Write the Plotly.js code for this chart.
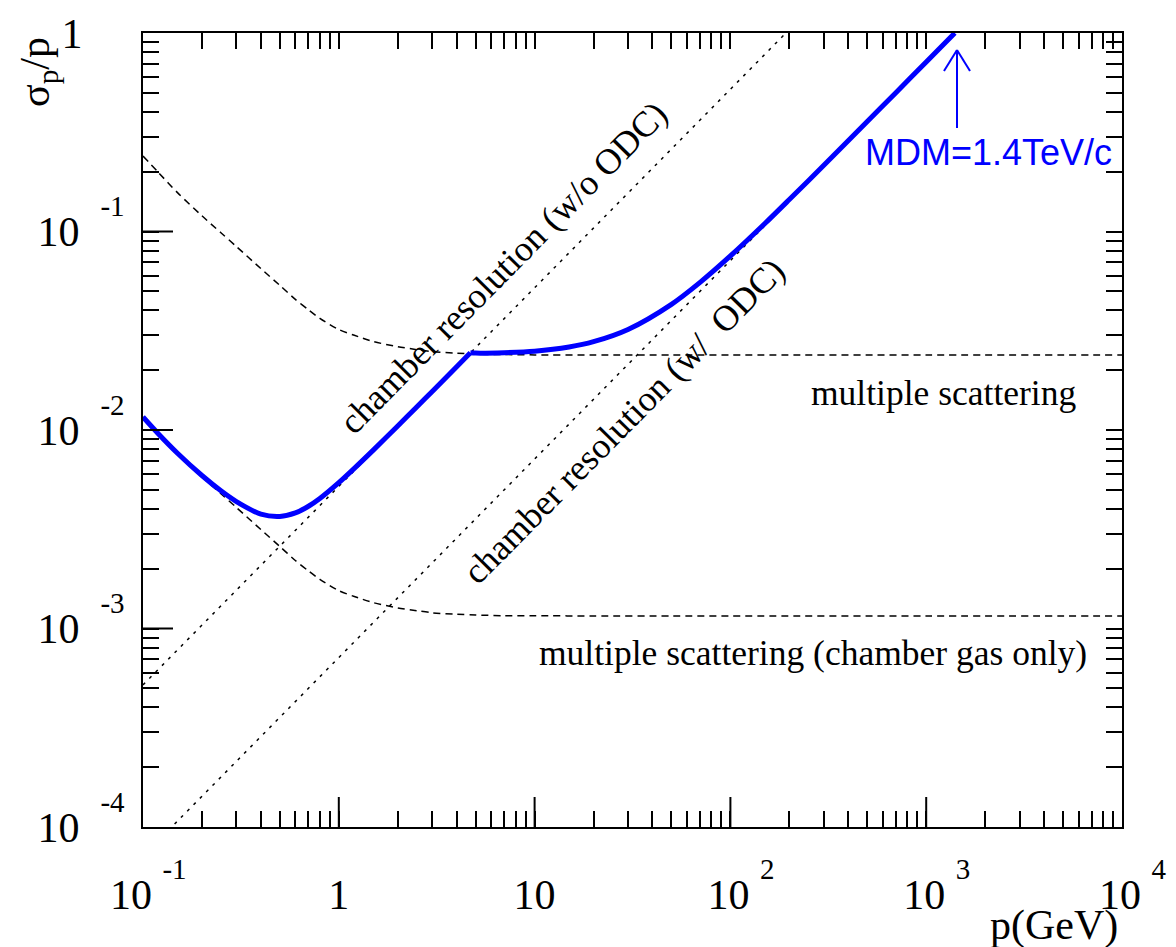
<!DOCTYPE html>
<html>
<head>
<meta charset="utf-8">
<script src="https://cdn.plot.ly/plotly-3.0.1.min.js"></script>
<style>html,body{margin:0;padding:0;background:#fff;}#chart{width:1176px;height:947px;}</style>
</head>
<body>
<div id="chart"></div>
<script>
// ---------------- data ----------------
// momentum grid for the multiple-scattering curves (GeV)
const pMS = [0.1,0.12,0.15,0.2,0.25,0.3,0.4,0.5,0.6,0.7,0.8,1,1.2,1.5,2,2.5,3,4,5,7,10,20,50,100,1000,10000];
// multiple scattering (upper dashed curve)
const msFull = [0.240,0.198,0.157,0.120,0.0985,0.0840,0.0650,0.0535,0.0455,0.0403,0.0365,0.0321,0.0300,0.0279,0.0263,0.0254,0.0248,0.0244,0.0241,0.0240,0.0239,0.0239,0.0239,0.0239,0.0239,0.0239];
// multiple scattering (chamber gas only, lower dashed curve)
const msGas = [0.01162,0.00953,0.00760,0.00581,0.00477,0.00407,0.00315,0.00259,0.00220,0.00195,0.00177,0.00155,0.00145,0.00135,0.00127,0.00123,0.00120,0.00118,0.00117,0.00116,0.00116,0.001156,0.001156,0.001156,0.001156,0.001156];
// chamber resolution without ODC (straight line)
const pResNoODC = [0.1, 192];
const resNoODC  = [0.00052, 1.0];
// chamber resolution with ODC (straight line)
const pResODC = [0.1, 1400];
const resODC  = [0.0000714, 1.0];
// total momentum resolution (blue curve): below the kink ...
const pTotLow = [0.1,0.12,0.15,0.2,0.25,0.3,0.4,0.5,0.6,0.7,0.8,1,1.2,1.5,2,2.5,3,4,4.7];
const totLow  = [0.01163,0.00955,0.00764,0.0059,0.00494,0.00436,0.00377,0.00367,0.00382,0.00413,0.00452,0.00543,0.00641,0.00792,0.01048,0.01306,0.01565,0.02083,0.02447];
// ... and above the kink
const pTotHigh = [4.7,5,7,10,15,20,30,50,70,100,150,200,300,500,700,1000,1400];
const totHigh  = [0.02447,0.02440,0.02452,0.02494,0.02619,0.02785,0.0321,0.04297,0.05542,0.07532,0.1097,0.1449,0.2156,0.3579,0.5006,0.7147,1.0];

// tick labels
const EXP = s => '<sup><sup><span style="font-size:29px">' + s + '</span></sup></sup>';
const xTickVals = [0.1, 1, 10, 100, 1000, 10000];
const xTickText = ['&nbsp;10&nbsp;' + EXP('-1'), '1', '10', '&nbsp;&nbsp;10&nbsp;' + EXP('2'), '&nbsp;&nbsp;10&nbsp;' + EXP('3'), '&nbsp;&nbsp;10&nbsp;' + EXP('4')];
const yTickVals = [0.0001, 0.001, 0.01, 0.1, 1];
const yTickText = ['10&nbsp;&nbsp;' + EXP('-4'), '10&nbsp;&nbsp;' + EXP('-3'), '10&nbsp;&nbsp;' + EXP('-2'), '10&nbsp;&nbsp;' + EXP('-1'), '1&nbsp;&nbsp;&nbsp;&nbsp;\u200b'];
const xDecades = [0.1, 1, 10, 100, 1000];
const yDecades = [0.0001, 0.001, 0.01, 0.1];
const minorMult = [2,3,4,5,6,7,8,9];
const xRange = [-1, 4];
const yRange = [-4, 0];

// text labels
const labelNoODC = 'chamber resolution (w/o ODC)';
const labelODC = 'chamber resolution (w/&nbsp;&nbsp;ODC)';
const labelMS = 'multiple scattering';
const labelGas = 'multiple scattering (chamber gas only)';
const labelMDM = 'MDM=1.4TeV/c';
const xTitle = 'p(GeV)';
const yTitle = '\u03c3<sub>p</sub>/p';

// ---------------- helpers ----------------
const xMinor = [];
xDecades.forEach(d => minorMult.forEach(m => xMinor.push(+(d * m).toPrecision(6))));
const yMinor = [];
yDecades.forEach(d => minorMult.forEach(m => yMinor.push(+(d * m).toPrecision(6))));

const L = 143, R = 1122, T = 33, B = 827;
const px = x => (x - L) / (R - L);
const py = y => (B - y) / (B - T);
const MAJOR_LEN = 30; // pixels

const serif = 'Liberation Serif, Times New Roman, serif';
const sans = 'Liberation Sans, Arial, sans-serif';
const BLUE = '#0000ff';

const dashedLine = (x, y, dash, shape) => ({
  x: x, y: y, type: 'scatter', mode: 'lines', hoverinfo: 'skip',
  line: {color: '#000', width: 1.5, dash: dash, shape: shape, smoothing: 0.8}, showlegend: false
});
const blueLine = (x, y) => ({
  x: x, y: y, type: 'scatter', mode: 'lines', hoverinfo: 'skip',
  line: {color: BLUE, width: 5, shape: 'spline', smoothing: 0.8}, showlegend: false
});

// long decade ticks on the bottom and left axes (ROOT style), built from the tick values
const xDecPerPx = (xRange[1] - xRange[0]) / (R - L);
const yDecPerPx = (yRange[1] - yRange[0]) / (B - T);
const yBottom = Math.pow(10, yRange[0]);
const xLeft = Math.pow(10, xRange[0]);
const majX = [], majXY = [];
xTickVals.slice(1, -1).forEach(v => {
  majX.push(v, v, null);
  majXY.push(yBottom, yBottom * Math.pow(10, MAJOR_LEN * yDecPerPx), null);
});
const majYX = [], majY = [];
yTickVals.slice(1, -1).forEach(v => {
  majYX.push(xLeft, xLeft * Math.pow(10, MAJOR_LEN * xDecPerPx), null);
  majY.push(v, v, null);
});
const tickTrace = (x, y) => ({x: x, y: y, type: 'scatter', mode: 'lines', hoverinfo: 'skip',
  connectgaps: false, line: {color: '#000', width: 2}, showlegend: false});

const traces = [
  tickTrace(majX, majXY),
  tickTrace(majYX, majY),
  dashedLine(pMS, msFull, '7px,5px', 'spline'),
  dashedLine(pMS, msGas, '7px,5px', 'spline'),
  dashedLine(pResNoODC, resNoODC, '3px,6px', 'linear'),
  dashedLine(pResODC, resODC, '3px,6px', 'linear'),
  blueLine(pTotLow, totLow),
  blueLine(pTotHigh, totHigh)
];

const tickFont = {family: serif, size: 42, color: '#000'};
const common = {type: 'log', tickmode: 'array', ticks: 'inside', ticklen: 16, tickwidth: 2, tickcolor: '#000',
  showline: true, linewidth: 2, linecolor: '#000', mirror: 'ticks', showgrid: false, zeroline: false, tickfont: tickFont};

const layout = {
  width: 1176, height: 947,
  margin: {l: L, r: 1176 - R, t: T, b: 947 - B},
  paper_bgcolor: '#fff', plot_bgcolor: '#fff',
  showlegend: false,
  xaxis: Object.assign({}, common, {range: xRange, tickvals: xTickVals, ticktext: xTickText, ticklabelstandoff: 30,
    minor: {tickmode: 'array', tickvals: xMinor, ticks: 'inside', ticklen: 16, tickwidth: 2, tickcolor: '#000', showgrid: false}}),
  yaxis: Object.assign({}, common, {range: yRange, tickvals: yTickVals, ticktext: yTickText, ticklabelstandoff: 8,
    minor: {tickmode: 'array', tickvals: yMinor, ticks: 'inside', ticklen: 16, tickwidth: 2, tickcolor: '#000', showgrid: false}}),
  annotations: [
    {text: labelNoODC, xref: 'paper', yref: 'paper', x: px(503), y: py(268), textangle: -45.4,
     showarrow: false, xanchor: 'center', yanchor: 'middle', font: {family: serif, size: 36, color: '#000'}},
    {text: labelODC, xref: 'paper', yref: 'paper', x: px(624), y: py(421), textangle: -45.4,
     showarrow: false, xanchor: 'center', yanchor: 'middle', font: {family: serif, size: 36, color: '#000'}},
    {text: labelMS, xref: 'paper', yref: 'paper', x: px(943), y: py(393),
     showarrow: false, xanchor: 'center', yanchor: 'middle', font: {family: serif, size: 35.5, color: '#000'}},
    {text: labelGas, xref: 'paper', yref: 'paper', x: px(813), y: py(653),
     showarrow: false, xanchor: 'center', yanchor: 'middle', font: {family: serif, size: 35.5, color: '#000'}},
    {text: labelMDM, xref: 'paper', yref: 'paper', x: px(988), y: py(153),
     showarrow: false, xanchor: 'center', yanchor: 'middle', font: {family: sans, size: 36, color: BLUE}},
    {text: xTitle, xref: 'paper', yref: 'paper', x: px(1120), y: py(925),
     showarrow: false, xanchor: 'right', yanchor: 'middle', font: {family: serif, size: 42, color: '#000'}},
    {text: yTitle, xref: 'paper', yref: 'paper', x: px(38), y: py(72), textangle: -90,
     showarrow: false, xanchor: 'center', yanchor: 'middle', font: {family: serif, size: 42, color: '#000'}}
  ],
  shapes: [
    {type: 'line', xref: 'paper', yref: 'paper', x0: px(957), y0: py(128), x1: px(957), y1: py(50), line: {color: BLUE, width: 2}},
    {type: 'line', xref: 'paper', yref: 'paper', x0: px(944), y0: py(71), x1: px(957), y1: py(50), line: {color: BLUE, width: 2}},
    {type: 'line', xref: 'paper', yref: 'paper', x0: px(970), y0: py(71), x1: px(957), y1: py(50), line: {color: BLUE, width: 2}}
  ]
};

Plotly.newPlot('chart', traces, layout, {displayModeBar: false, staticPlot: true});
</script>
</body>
</html>
